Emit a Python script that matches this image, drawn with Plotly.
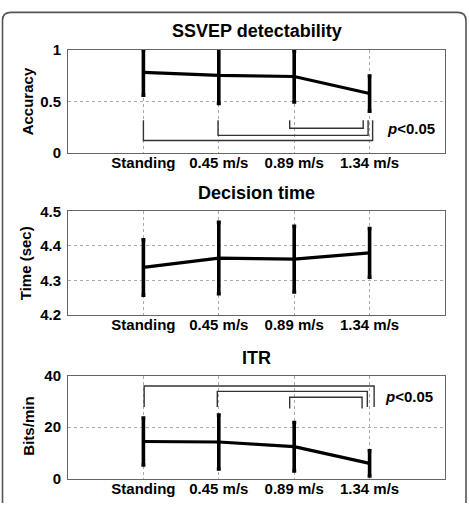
import plotly.graph_objects as go

W, H = 469, 511

categories = ["Standing", "0.45 m/s", "0.89 m/s", "1.34 m/s"]
xpos = [1, 2, 3, 4]

acc_mean = [0.78, 0.75, 0.74, 0.575]
acc_err = [0.22, 0.27, 0.245, 0.17]

time_mean = [4.338, 4.365, 4.362, 4.380]
time_err = [0.080, 0.103, 0.095, 0.070]

itr_mean = [14.4, 14.2, 12.4, 5.9]
itr_err = [9.1, 10.5, 9.4, 4.9]

# significance brackets (panel 1: opening upward; panel 3: opening downward)
acc_sig_left = [2.94, 1.99, 1.0]
acc_sig_right = [3.915, 3.98, 4.04]
acc_sig_level = [0.24, 0.171, 0.121]
acc_sig_leg = [0.318, 0.318, 0.318]

itr_sig_left = [2.94, 1.98, 1.01]
itr_sig_right = [3.90, 3.97, 4.06]
itr_sig_level = [31.6, 33.9, 36.0]
itr_sig_leg = [27.2, 27.8, 27.8]

FONT = "Liberation Sans, Arial, sans-serif"


def px_x(p):
    return p / W


def px_y(p):
    return 1 - p / H


def brackets(lefts, rights, levels, legs):
    xs, ys = [], []
    for l, r, lv, lg in zip(lefts, rights, levels, legs):
        xs += [l, l, r, r, None]
        ys += [lg, lv, lv, lg, None]
    return xs, ys


fig = go.Figure()

panels = [
    ("", acc_mean, acc_err),
    ("2", time_mean, time_err),
    ("3", itr_mean, itr_err),
]
for suf, m, e in panels:
    fig.add_trace(go.Scatter(
        x=xpos, y=m, mode="lines",
        line=dict(color="black", width=3.2),
        error_y=dict(type="data", array=e, visible=True, color="black",
                     thickness=3.6, width=2),
        xaxis="x" + suf, yaxis="y" + suf, showlegend=False, hoverinfo="skip"))

bx, by = brackets(acc_sig_left, acc_sig_right, acc_sig_level, acc_sig_leg)
fig.add_trace(go.Scatter(x=bx, y=by, mode="lines", line=dict(color="#333", width=1.4),
                         xaxis="x", yaxis="y", showlegend=False, hoverinfo="skip"))
bx, by = brackets(itr_sig_left, itr_sig_right, itr_sig_level, itr_sig_leg)
fig.add_trace(go.Scatter(x=bx, y=by, mode="lines", line=dict(color="#333", width=1.4),
                         xaxis="x3", yaxis="y3", showlegend=False, hoverinfo="skip"))

tickfont = dict(family=FONT, size=15, color="black", weight="bold")
xdom = [px_x(68), px_x(445)]
ydoms = [
    [px_y(149), px_y(42)],
    [px_y(316.7), px_y(209.3)],
    [px_y(485.7), px_y(379.3)],
]
yranges = [[0, 1], [4.2, 4.5], [0, 40]]
yticks = [[0, 0.5, 1], [4.2, 4.3, 4.4, 4.5], [0, 20, 40]]
yticktext = [["0", "0.5", "1"], ["4.2", "4.3", "4.4", "4.5"], ["0", "20", "40"]]

axcommon = dict(showline=True, mirror=True, linecolor="#666", linewidth=1,
                showgrid=True, gridcolor="#aaa", griddash="dot", gridwidth=1,
                zeroline=False, tickfont=tickfont, ticks="")

layout = dict(width=W, height=H, margin=dict(l=0, r=0, t=0, b=0),
              plot_bgcolor="white", paper_bgcolor="white", showlegend=False)
for i, suf in enumerate(["", "2", "3"]):
    layout["xaxis" + suf] = dict(domain=xdom, range=[0, 5], tickvals=xpos,
                                 ticktext=categories, anchor="y" + suf,
                                 ticklabelstandoff=-4, **axcommon)
    layout["yaxis" + suf] = dict(domain=ydoms[i], range=yranges[i], tickvals=yticks[i],
                                 ticktext=yticktext[i], anchor="x" + suf,
                                 ticklabelstandoff=3, **axcommon)
fig.update_layout(**layout)

titles = [("SSVEP detectability", 23), ("Decision time", 190.7), ("ITR", 361)]
ylabels = [("Accuracy", 27, 95.5), ("Time (sec)", 25, 263), ("Bits/min", 29, 432)]
anns = []
for t, y in titles:
    anns.append(dict(text=t, x=px_x(256.5), y=px_y(y), xref="paper", yref="paper",
                     xanchor="center", yanchor="middle", showarrow=False,
                     font=dict(family=FONT, size=18, color="black", weight="bold")))
for t, x, y in ylabels:
    anns.append(dict(text=t, x=px_x(x), y=px_y(y), xref="paper", yref="paper",
                     xanchor="center", yanchor="middle", showarrow=False, textangle=-90,
                     font=dict(family=FONT, size=15, color="black", weight="bold")))
for x, y in [(411, 124), (409, 401)]:
    anns.append(dict(text="<i>p</i>&lt;0.05", x=px_x(x), y=px_y(y), xref="paper", yref="paper",
                     xanchor="center", yanchor="middle", showarrow=False,
                     font=dict(family=FONT, size=15, color="black", weight="bold")))
fig.update_layout(annotations=anns)

fig.add_shape(type="path", xref="paper", yref="paper",
              path=(f"M {px_x(2.5)},{px_y(511)} L {px_x(2.5)},{px_y(12)} "
                    f"Q {px_x(2.5)},{px_y(3.5)} {px_x(11)},{px_y(3.5)} "
                    f"L {px_x(457.5)},{px_y(3.5)} Q {px_x(466)},{px_y(3.5)} {px_x(466)},{px_y(12)} "
                    f"L {px_x(466)},{px_y(511)}"),
              line=dict(color="#555", width=1.6))

fig.write_html("out.html")
